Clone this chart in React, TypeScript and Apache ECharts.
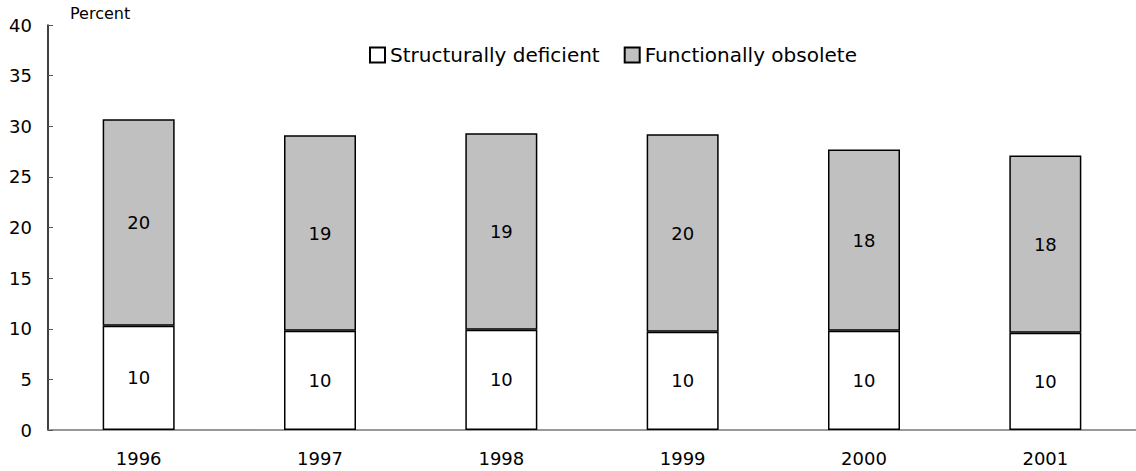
import React, { useEffect, useRef } from "react";
import * as echarts from "echarts";

const years = ["1996", "1997", "1998", "1999", "2000", "2001"];
const structurallyDeficient = [10.3, 9.8, 9.9, 9.7, 9.8, 9.6];
const functionallyObsolete = [20.4, 19.3, 19.4, 19.5, 17.9, 17.5];
const yTicks = [0, 5, 10, 15, 20, 25, 30, 35, 40];

const FONT = "'DejaVu Sans', sans-serif";

export default function App() {
  const ref = useRef<HTMLDivElement>(null);
  useEffect(() => {
    if (!ref.current) return;
    const chart = echarts.init(ref.current, undefined, { renderer: "svg" });
    const labelCfg = {
      show: true,
      position: "inside",
      color: "#000",
      fontSize: 18,
      fontFamily: FONT,
      formatter: (p: any) => String(Math.round(p.value)),
    };
    chart.setOption({
      animation: false,
      backgroundColor: "#fff",
      textStyle: { fontFamily: FONT },
      grid: { left: 48, top: 25, width: 1095, height: 405, containLabel: false },
      legend: {
        top: 45,
        left: 369,
        padding: 0,
        itemWidth: 15,
        itemHeight: 15,
        itemGap: 24,
        icon: "rect",
        textStyle: { fontSize: 20, color: "#000", fontFamily: FONT, padding: [0, 0, 0, 0] },
        data: ["Structurally deficient", "Functionally obsolete"],
      },
      graphic: [
        {
          type: "text",
          left: 70,
          top: 5,
          style: { text: "Percent", fontSize: 16, fill: "#000", fontFamily: FONT },
        },
      ],
      xAxis: {
        type: "category",
        data: years,
        axisLine: { show: true, lineStyle: { color: "#777", width: 1.5 } },
        axisTick: { show: false },
        axisLabel: { color: "#000", fontSize: 18, margin: 19, fontFamily: FONT },
      },
      yAxis: {
        type: "value",
        min: yTicks[0],
        max: yTicks[yTicks.length - 1],
        interval: 5,
        splitLine: { show: false },
        axisLine: { show: true, lineStyle: { color: "#000", width: 1.5 } },
        axisTick: { show: true, inside: true, length: 5, lineStyle: { color: "#555" } },
        axisLabel: { color: "#000", fontSize: 18, margin: 16, fontFamily: FONT },
      },
      series: [
        {
          name: "Structurally deficient",
          type: "bar",
          stack: "total",
          barWidth: 72,
          data: structurallyDeficient,
          itemStyle: { color: "#ffffff", borderColor: "#000", borderWidth: 1.5 },
          label: labelCfg,
        },
        {
          name: "Functionally obsolete",
          type: "bar",
          stack: "total",
          barWidth: 72,
          data: functionallyObsolete,
          itemStyle: { color: "#c0c0c0", borderColor: "#000", borderWidth: 1.5 },
          label: labelCfg,
        },
      ],
    });
    return () => chart.dispose();
  }, []);
  return (
    <div
      ref={ref}
      style={{ position: "fixed", left: 0, top: 0, width: 1136, height: 471, background: "#fff" }}
    />
  );
}
